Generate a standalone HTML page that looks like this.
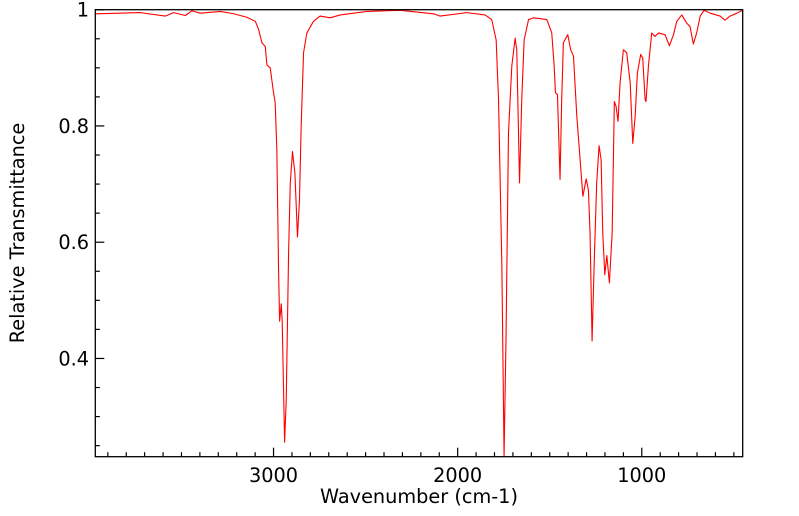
<!DOCTYPE html>
<html><head><meta charset="utf-8"><style>
html,body{margin:0;padding:0;background:#fff;}
svg{display:block;}
text{font-family:"DejaVu Sans","Liberation Sans",sans-serif;fill:#000;}
</style></head><body>
<svg id="chart" width="799" height="516" viewBox="0 0 799 516" xmlns="http://www.w3.org/2000/svg">
<g id="ticks"></g>
<g id="labels"></g>
<polyline id="spectrum" fill="none" stroke="#ff0000" stroke-width="1.1" stroke-linejoin="round"></polyline>
<rect x="95.3" y="9.7" width="647.4" height="447" fill="none" stroke="#000" stroke-width="1.3"></rect>
<text x="419" y="503" font-size="19.3" text-anchor="middle">Wavenumber (cm-1)</text>
<text x="0" y="0" font-size="19.3" text-anchor="middle" transform="translate(24,233) rotate(-90)">Relative Transmittance</text>
</svg>
<script>
const wavenumbers = [3964,3724,3588,3543,3479,3443,3398,3289,3217,3145,3099,3081,3063,3045,3036,3018,3000,2991,2982,2973,2967,2958,2953,2940,2931,2918,2909,2897,2884,2870,2859,2850,2837,2819,2783,2747,2692,2638,2493,2312,2131,2095,1950,1851,1815,1791,1778,1760,1748,1737,1724,1706,1688,1679,1664,1652,1639,1615,1588,1516,1489,1476,1469,1458,1444,1435,1426,1402,1386,1371,1353,1339,1320,1302,1290,1281,1270,1259,1245,1232,1221,1212,1201,1190,1176,1161,1149,1140,1129,1118,1100,1082,1063,1049,1036,1024,1006,995,982,977,964,946,928,910,874,850,828,810,783,756,738,720,702,683,662,629,575,548,521,484,452];
const transmittance = [0.993,0.995,0.989,0.995,0.990,0.998,0.994,0.997,0.993,0.987,0.980,0.966,0.943,0.937,0.905,0.900,0.857,0.840,0.759,0.559,0.464,0.494,0.464,0.256,0.329,0.587,0.702,0.756,0.719,0.609,0.673,0.799,0.926,0.960,0.980,0.989,0.986,0.991,0.997,0.999,0.993,0.989,0.995,0.991,0.983,0.948,0.845,0.559,0.232,0.444,0.788,0.903,0.951,0.931,0.702,0.845,0.948,0.983,0.986,0.983,0.960,0.903,0.857,0.854,0.708,0.845,0.943,0.957,0.931,0.920,0.817,0.759,0.679,0.709,0.690,0.616,0.430,0.559,0.702,0.766,0.742,0.616,0.544,0.577,0.530,0.616,0.842,0.834,0.808,0.874,0.931,0.926,0.874,0.770,0.817,0.891,0.923,0.917,0.845,0.842,0.903,0.960,0.954,0.960,0.957,0.938,0.957,0.980,0.991,0.977,0.971,0.941,0.960,0.989,0.999,0.994,0.989,0.982,0.989,0.994,0.999];
const xTickValues = [3000,2000,1000];
const xTickLabels = ["3000","2000","1000"];
const yTickValues = [1,0.8,0.6,0.4];
const yTickLabels = ["1","0.8","0.6","0.4"];

const X0=95.3, X1=742.7, Y0=9.7, Y1=456.7;
const WN_L=3968, WN_R=452, T_TOP=1.0, T_BOT=0.231;
function xScale(w){return X0+(WN_L-w)/(WN_L-WN_R)*(X1-X0);}
function yScale(t){return Y0+(T_TOP-t)/(T_TOP-T_BOT)*(Y1-Y0);}
const NS="http://www.w3.org/2000/svg";
const tg=document.getElementById('ticks'), lg=document.getElementById('labels');
function line(x1,y1,x2,y2,name){
  const l=document.createElementNS(NS,'line');
  l.setAttribute('x1',x1);l.setAttribute('y1',y1);l.setAttribute('x2',x2);l.setAttribute('y2',y2);
  l.setAttribute('stroke','#000');l.setAttribute('stroke-width','1.2');
  
  
  tg.appendChild(l);
}
for(let w=3900; w>WN_R; w-=100){
  const x=xScale(w); const major=(w%1000===0);
  line(x,Y1,x,Y1-(major?9:4.5),major?'x-major-tick':'x-minor-tick');
}
for(let k=0;k<=20;k++){
  const t=1-k*0.05; if(t<T_BOT) break;
  const y=yScale(t); const major=(Math.round(t*100)%20===0);
  line(X0,y,X0+(major?9:4.5),y,major?'y-major-tick':'y-minor-tick');
}
xTickValues.forEach((v,i)=>{
  const t=document.createElementNS(NS,'text');
  t.setAttribute('x',xScale(v));t.setAttribute('y',482);t.setAttribute('font-size','19.3');t.setAttribute('text-anchor','middle');
  t.textContent=xTickLabels[i];
  
  
  lg.appendChild(t);
});
yTickValues.forEach((v,i)=>{
  const t=document.createElementNS(NS,'text');
  t.setAttribute('x',89);t.setAttribute('y',yScale(v)+7);t.setAttribute('font-size','19.3');t.setAttribute('text-anchor','end');
  t.textContent=yTickLabels[i];
  
  
  lg.appendChild(t);
});
document.getElementById('spectrum').setAttribute('points',
  wavenumbers.map((w,i)=>xScale(w).toFixed(2)+','+yScale(transmittance[i]).toFixed(2)).join(' '));
</script>
</body></html>
